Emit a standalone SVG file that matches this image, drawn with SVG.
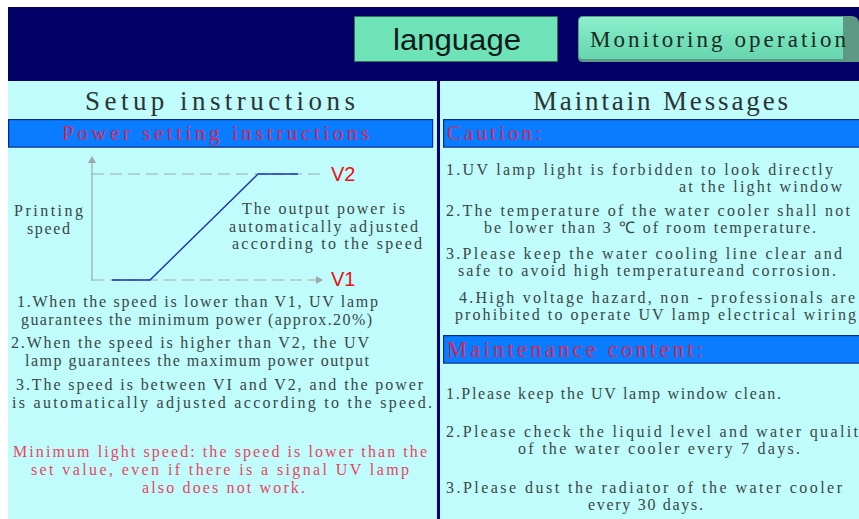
<svg xmlns="http://www.w3.org/2000/svg" width="859" height="519" viewBox="0 0 859 519">
<defs>
<style>
.serif{font-family:"Liberation Serif","Times New Roman",serif;}
.body{font-family:"Liberation Serif","Times New Roman",serif;font-size:16px;fill:#3a4746;}
.red{font-family:"Liberation Serif","Times New Roman",serif;font-size:16px;fill:#e84660;}
.title{font-family:"Liberation Serif","Times New Roman",serif;font-size:27px;fill:#2c3434;}
.band{fill:#0a7cff;stroke:#0a2a8a;stroke-width:1.2;}
.bandtxt{font-family:"Liberation Serif","Times New Roman",serif;font-size:21px;fill:#d8285a;}
.axis{stroke:#a0a8a8;stroke-width:1.2;fill:none;}
.dash{stroke:#a0a8a8;stroke-width:1.2;fill:none;stroke-dasharray:12,6;}
.vlbl{font-family:"Liberation Sans",Arial,sans-serif;font-size:20px;fill:#f01010;}
</style>
<linearGradient id="mon" x1="0" y1="0" x2="0" y2="1">
<stop offset="0" stop-color="#8ef0cc"/>
<stop offset="0.5" stop-color="#76e2bb"/>
<stop offset="1" stop-color="#6ad6b0"/>
</linearGradient>
<marker id="arr" markerWidth="8" markerHeight="8" refX="6" refY="4" orient="auto" markerUnits="userSpaceOnUse">
<path d="M0,0 L7,4 L0,8 Z" fill="#a0a8a8"/>
</marker>
</defs>
<rect x="0" y="0" width="859" height="519" fill="#ffffff"/>
<g id="header">
<rect x="8" y="7" width="851" height="74" fill="#000066"/>
</g>
<g id="btn-language">
<rect x="354.5" y="16.5" width="203" height="45" fill="#6ee3b8" stroke="#3a6a5a" stroke-width="1"/>
<text x="393" y="50" textLength="128" lengthAdjust="spacingAndGlyphs" style="font-family:'Liberation Sans',Arial,sans-serif;font-size:30px;fill:#101818;">language</text>
</g>
<g id="btn-monitoring">
<path d="M583,16 H851 Q859,16 859,24 V62 H583 Q578,62 578,57 V21 Q578,16 583,16 Z" fill="#5c9a86"/>
<path d="M583,17 H843 V59 H583 Q579,59 579,55 V21 Q579,17 583,17 Z" fill="url(#mon)"/>
<text x="590" y="47" textLength="256" lengthAdjust="spacing" class="serif" style="font-size:23px;fill:#1c2a24;">Monitoring operation</text>
</g>
<g id="panel-left">
<rect x="8" y="81" width="429" height="438" fill="#c0fcfc"/>
<text x="85" y="110" textLength="270" lengthAdjust="spacing" class="title">Setup instructions</text>
<rect x="8.6" y="119.6" width="424" height="27.5" class="band"/>
<text x="62" y="140" textLength="307" lengthAdjust="spacing" class="bandtxt">Power setting instructions</text>
</g>
<g id="panel-right">
<rect x="440" y="81" width="419" height="438" fill="#c0fcfc"/>
<text x="533" y="110" textLength="255" lengthAdjust="spacing" class="title">Maintain Messages</text>
<rect x="443.6" y="119.6" width="416" height="27.5" class="band"/>
<text x="447" y="140" textLength="94" lengthAdjust="spacing" class="bandtxt">Caution:</text>
</g>
<g id="divider">
<rect x="437" y="81" width="3" height="438" fill="#000080"/>
</g>
<g id="chart">
<line x1="92" y1="281" x2="92" y2="157" class="axis" marker-end="url(#arr)"/>
<line x1="92" y1="280" x2="322" y2="280" class="dash" marker-end="url(#arr)"/>
<line x1="92" y1="174" x2="322" y2="174" class="dash"/>
<polyline points="112,280 150,280 258,174 298,174" fill="none" stroke="#1a30c0" stroke-width="1.4"/>
<text x="331" y="181" class="vlbl">V2</text>
<text x="331" y="286" class="vlbl">V1</text>
<text x="14" y="216" textLength="69" lengthAdjust="spacing" class="body">Printing</text>
<text x="27" y="234" textLength="43" lengthAdjust="spacing" class="body">speed</text>
<text x="242" y="214" textLength="163" lengthAdjust="spacing" class="body">The output power is</text>
<text x="229" y="232" textLength="189" lengthAdjust="spacing" class="body">automatically adjusted</text>
<text x="232" y="249" textLength="190" lengthAdjust="spacing" class="body">according to the speed</text>
</g>
<g id="setup-notes">
<text x="17" y="307" textLength="361" lengthAdjust="spacing" class="body">1.When the speed is lower than V1, UV lamp</text>
<text x="21" y="325" textLength="351" lengthAdjust="spacing" class="body">guarantees the minimum power (approx.20%)</text>
<text x="11" y="348" textLength="358" lengthAdjust="spacing" class="body">2.When the speed is higher than V2, the UV</text>
<text x="25" y="366" textLength="344" lengthAdjust="spacing" class="body">lamp guarantees the maximum power output</text>
<text x="16" y="390" textLength="407" lengthAdjust="spacing" class="body">3.The speed is between VI and V2, and the power</text>
<text x="12" y="408" textLength="420" lengthAdjust="spacing" class="body">is automatically adjusted according to the speed.</text>
<text x="13" y="457" textLength="414" lengthAdjust="spacing" class="red">Minimum light speed: the speed is lower than the</text>
<text x="31" y="475" textLength="378" lengthAdjust="spacing" class="red">set value, even if there is a signal UV lamp</text>
<text x="142" y="493" textLength="163" lengthAdjust="spacing" class="red">also does not work.</text>
</g>
<g id="caution-notes">
<text x="446" y="175" textLength="387" lengthAdjust="spacing" class="body">1.UV lamp light is forbidden to look directly</text>
<text x="679" y="192" textLength="163" lengthAdjust="spacing" class="body">at the light window</text>
<text x="446" y="216" textLength="404" lengthAdjust="spacing" class="body">2.The temperature of the water cooler shall not</text>
<text x="484" y="233" textLength="332" lengthAdjust="spacing" class="body">be lower than 3 ℃ of room temperature.</text>
<text x="446" y="259" textLength="396" lengthAdjust="spacing" class="body">3.Please keep the water cooling line clear and</text>
<text x="458" y="276" textLength="378" lengthAdjust="spacing" class="body">safe to avoid high temperatureand corrosion.</text>
<text x="459" y="303" textLength="396" lengthAdjust="spacing" class="body">4.High voltage hazard, non - professionals are</text>
<text x="455" y="320" textLength="401" lengthAdjust="spacing" class="body">prohibited to operate UV lamp electrical wiring</text>
</g>
<g id="maintenance">
<rect x="443.6" y="335.6" width="416" height="27.5" class="band"/>
<text x="447" y="357" textLength="256" lengthAdjust="spacing" class="bandtxt" style="font-size:22.5px;">Maintenance content:</text>
<text x="446" y="399" textLength="335" lengthAdjust="spacing" class="body">1.Please keep the UV lamp window clean.</text>
<text x="446" y="437" textLength="412" lengthAdjust="spacing" class="body">2.Please check the liquid level and water qualit</text>
<text x="518" y="454" textLength="282" lengthAdjust="spacing" class="body">of the water cooler every 7 days.</text>
<text x="446" y="493" textLength="396" lengthAdjust="spacing" class="body">3.Please dust the radiator of the water cooler</text>
<text x="588" y="510" textLength="115" lengthAdjust="spacing" class="body">every 30 days.</text>
</g>
</svg>
